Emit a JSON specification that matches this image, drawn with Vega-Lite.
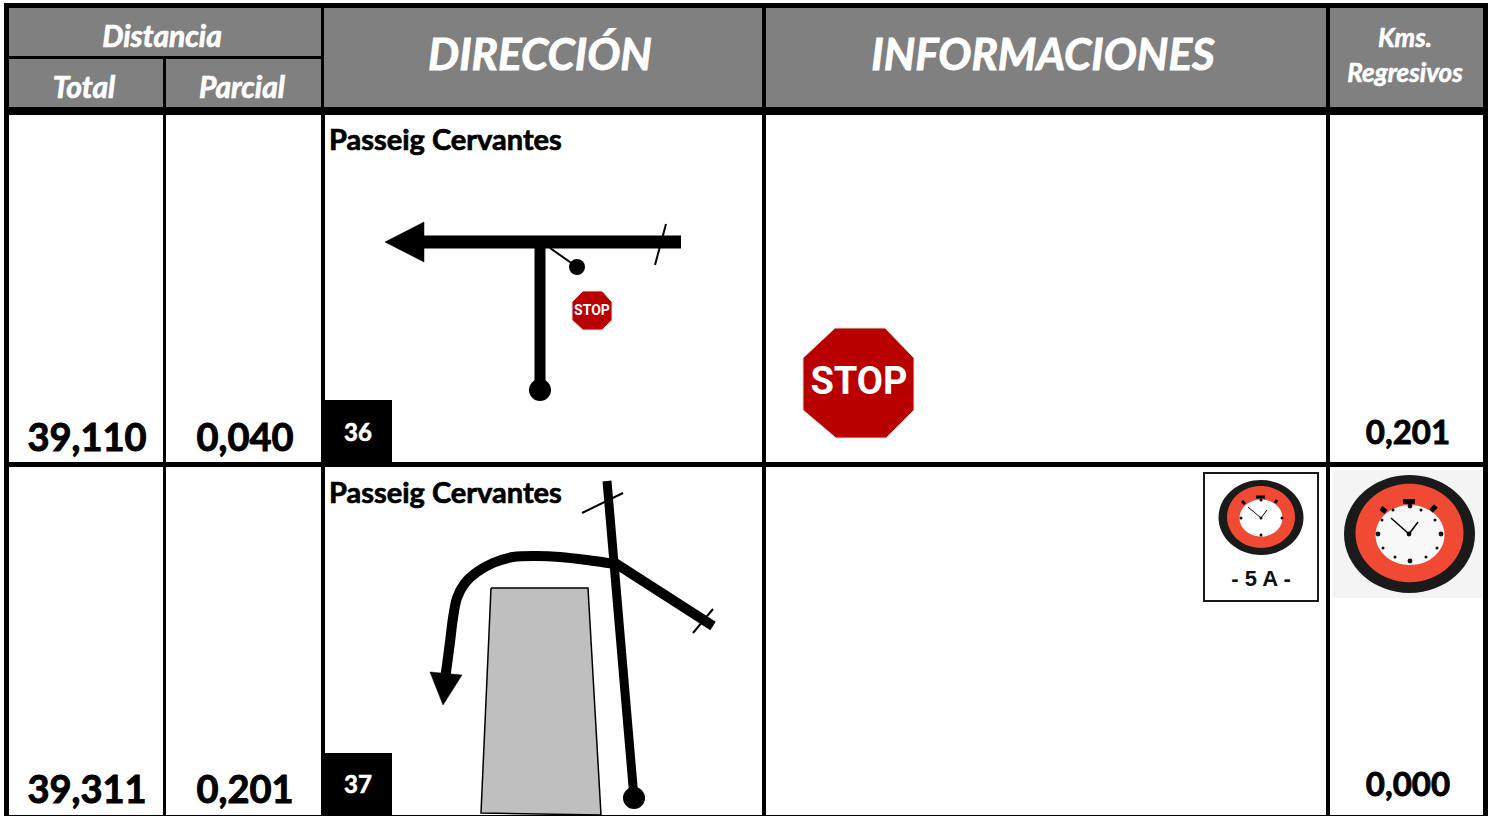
{
"$schema":"https://vega.github.io/schema/vega-lite/v6.json",
"width":1494,"height":816,"padding":0,
"autosize":"none",
"background":"#ffffff",
"config":{"view":{"stroke":null},"text":{"font":"Lato"}},
"datasets":{
"cells":[
{"part":"frame","x":4,"x2":1488,"y":3,"y2":816},
{"part":"header","x":9,"x2":321,"y":8,"y2":56},
{"part":"header","x":9,"x2":163,"y":59,"y2":107},
{"part":"header","x":166,"x2":321,"y":59,"y2":107},
{"part":"header","x":324,"x2":762,"y":8,"y2":107},
{"part":"header","x":766,"x2":1326,"y":8,"y2":107},
{"part":"header","x":1330,"x2":1483,"y":8,"y2":107},
{"part":"body","x":9,"x2":163,"y":115,"y2":462},
{"part":"body","x":166,"x2":321,"y":115,"y2":462},
{"part":"body","x":325,"x2":762,"y":115,"y2":462},
{"part":"body","x":766,"x2":1326,"y":115,"y2":462},
{"part":"body","x":1330,"x2":1483,"y":115,"y2":462},
{"part":"body","x":9,"x2":163,"y":467,"y2":815},
{"part":"body","x":166,"x2":321,"y":467,"y2":815},
{"part":"body","x":325,"x2":762,"y":467,"y2":815},
{"part":"body","x":766,"x2":1326,"y":467,"y2":815},
{"part":"body","x":1330,"x2":1483,"y":467,"y2":815},
{"part":"tag","x":324,"x2":392,"y":400,"y2":462},
{"part":"tag","x":324,"x2":392,"y":753,"y2":815},
{"part":"clockback","x":1333,"x2":1482,"y":470,"y2":598},
{"part":"signedge","x":1203,"x2":1319,"y":472,"y2":602},
{"part":"signface","x":1205,"x2":1317,"y":474,"y2":600}
],
"polys":[
{"kind":"block","seq":1,"x":491,"y":588},{"kind":"block","seq":2,"x":588,"y":588},{"kind":"block","seq":3,"x":601,"y":815},{"kind":"block","seq":4,"x":481,"y":813},{"kind":"block","seq":5,"x":491,"y":588},
{"kind":"head1","seq":1,"x":385,"y":242},{"kind":"head1","seq":2,"x":424,"y":222},{"kind":"head1","seq":3,"x":424,"y":262},{"kind":"head1","seq":4,"x":385,"y":242},
{"kind":"head2","seq":1,"x":430,"y":672},{"kind":"head2","seq":2,"x":462,"y":675},{"kind":"head2","seq":3,"x":443,"y":705},{"kind":"head2","seq":4,"x":430,"y":672},
{"kind":"stopA","seq":1,"x":835,"y":328},{"kind":"stopA","seq":2,"x":885,"y":328},{"kind":"stopA","seq":3,"x":914,"y":358},{"kind":"stopA","seq":4,"x":914,"y":410},{"kind":"stopA","seq":5,"x":886,"y":438},{"kind":"stopA","seq":6,"x":836,"y":438},{"kind":"stopA","seq":7,"x":803,"y":410},{"kind":"stopA","seq":8,"x":803,"y":358},{"kind":"stopA","seq":9,"x":835,"y":328},
{"kind":"stopB","seq":1,"x":583,"y":291},{"kind":"stopB","seq":2,"x":602,"y":291},{"kind":"stopB","seq":3,"x":612,"y":302},{"kind":"stopB","seq":4,"x":612,"y":320},{"kind":"stopB","seq":5,"x":602,"y":330},{"kind":"stopB","seq":6,"x":583,"y":330},{"kind":"stopB","seq":7,"x":572,"y":320},{"kind":"stopB","seq":8,"x":572,"y":302},{"kind":"stopB","seq":9,"x":583,"y":291}
],
"roads":[
{"road":"t-main","weight":"main","seq":1,"x":420,"y":242},{"road":"t-main","weight":"main","seq":2,"x":681,"y":242},
{"road":"t-stem","weight":"stem","seq":1,"x":540,"y":242},{"road":"t-stem","weight":"stem","seq":2,"x":540,"y":388},
{"road":"t-link","weight":"fine","seq":1,"x":550,"y":248},{"road":"t-link","weight":"fine","seq":2,"x":577,"y":267},
{"road":"t-tick","weight":"fine","seq":1,"x":666,"y":224},{"road":"t-tick","weight":"fine","seq":2,"x":655,"y":265},
{"road":"long","weight":"long","seq":1,"x":607,"y":481},{"road":"long","weight":"long","seq":2,"x":634,"y":798},
{"road":"branch","weight":"branch","seq":1,"x":615,"y":563},{"road":"branch","weight":"branch","seq":2,"x":713,"y":626},
{"road":"tick-a","weight":"fine","seq":1,"x":582,"y":513},{"road":"tick-a","weight":"fine","seq":2,"x":623,"y":493},
{"road":"tick-b","weight":"fine","seq":1,"x":693,"y":633},{"road":"tick-b","weight":"fine","seq":2,"x":713,"y":609},
{"road":"bighand-1","weight":"hair","seq":1,"x":1391,"y":518},{"road":"bighand-1","weight":"hair","seq":2,"x":1409,"y":534},
{"road":"bighand-2","weight":"hair","seq":1,"x":1409,"y":534},{"road":"bighand-2","weight":"hair","seq":2,"x":1418,"y":522},
{"road":"smallhand-1","weight":"thin","seq":1,"x":1248,"y":507},{"road":"smallhand-1","weight":"thin","seq":2,"x":1261,"y":518},
{"road":"smallhand-2","weight":"thin","seq":1,"x":1261,"y":518},{"road":"smallhand-2","weight":"thin","seq":2,"x":1267,"y":510},
{"road":"knob-t","weight":"knob","seq":1,"x":1403,"y":501.5},{"road":"knob-t","weight":"knob","seq":2,"x":1415,"y":501.5},
{"road":"knob-l","weight":"knob","seq":1,"x":1381,"y":508},{"road":"knob-l","weight":"knob","seq":2,"x":1386,"y":512},
{"road":"knob-r","weight":"knob","seq":1,"x":1436,"y":506},{"road":"knob-r","weight":"knob","seq":2,"x":1431,"y":511},
{"road":"knob-st","weight":"small-knob","seq":1,"x":1256,"y":497},{"road":"knob-st","weight":"small-knob","seq":2,"x":1265,"y":497},
{"road":"knob-sl","weight":"small-knob","seq":1,"x":1242,"y":501},{"road":"knob-sl","weight":"small-knob","seq":2,"x":1245,"y":504},
{"road":"knob-sr","weight":"small-knob","seq":1,"x":1277,"y":500},{"road":"knob-sr","weight":"small-knob","seq":2,"x":1275,"y":503}
],
"curve":[
{"seq":1,"x":615,"y":564},{"seq":2,"x":587,"y":560},{"seq":3,"x":560,"y":557},{"seq":4,"x":537,"y":556},{"seq":5,"x":513,"y":557},{"seq":6,"x":493,"y":563},{"seq":7,"x":477,"y":572},{"seq":8,"x":465,"y":583},{"seq":9,"x":457,"y":598},{"seq":10,"x":453,"y":618},{"seq":11,"x":450,"y":642},{"seq":12,"x":447,"y":665},{"seq":13,"x":445,"y":678}
],
"dots":[
{"part":"big-outer","x":1409.5,"y":534},{"part":"big-red","x":1409.5,"y":533},{"part":"big-face","x":1410,"y":535},
{"part":"small-outer","x":1261,"y":517.5},{"part":"small-red","x":1261,"y":517},{"part":"small-face","x":1261,"y":518},
{"part":"node","x":540,"y":390},{"part":"node","x":634,"y":798},{"part":"stud","x":577,"y":267},
{"part":"pip","x":1410,"y":506},{"part":"pip","x":1410,"y":561},{"part":"pip","x":1378,"y":534},{"part":"pip","x":1441,"y":534},{"part":"pip","x":1409,"y":534},
{"part":"mini","x":1393,"y":510},{"part":"mini","x":1421,"y":510},{"part":"mini","x":1435,"y":520},{"part":"mini","x":1437,"y":548},{"part":"mini","x":1426,"y":557},{"part":"mini","x":1395,"y":557},{"part":"mini","x":1383,"y":548},{"part":"mini","x":1382,"y":520},
{"part":"mini","x":1261,"y":500},{"part":"mini","x":1261,"y":535},{"part":"mini","x":1241,"y":518},{"part":"mini","x":1282,"y":518},{"part":"mini","x":1261,"y":518}
],
"labels":[
{"role":"mid","text":"Distancia","x":162,"y":38},
{"role":"mid","text":"Total","x":84,"y":89},
{"role":"mid","text":"Parcial","x":242,"y":89},
{"role":"large","text":"DIRECCIÓN","x":540,"y":57},
{"role":"large","text":"INFORMACIONES","x":1043,"y":57},
{"role":"small","text":"Kms.","x":1405,"y":39},
{"role":"small","text":"Regresivos","x":1405,"y":74},
{"role":"dist","text":"39,110","x":87,"y":440},
{"role":"dist","text":"0,040","x":245,"y":440},
{"role":"dist","text":"39,311","x":87,"y":792},
{"role":"dist","text":"0,201","x":245,"y":792},
{"role":"regress","text":"0,201","x":1408,"y":434},
{"role":"regress","text":"0,000","x":1408,"y":786},
{"role":"street","text":"Passeig Cervantes","x":329,"y":141},
{"role":"street","text":"Passeig Cervantes","x":329,"y":494},
{"role":"tag","text":"36","x":358,"y":434},
{"role":"tag","text":"37","x":358,"y":786},
{"role":"stopbig","text":"STOP","x":859,"y":383},
{"role":"stopmini","text":"STOP","x":592,"y":311},
{"role":"sign","text":"- 5 A -","x":1261,"y":579}
]
},
"encoding":{
"x":{"field":"x","type":"quantitative","scale":{"domain":[0,1494],"nice":false,"zero":false},"axis":null},
"y":{"field":"y","type":"quantitative","scale":{"domain":[0,816],"nice":false,"zero":false,"reverse":true},"axis":null}
},
"layer":[
{"data":{"name":"cells"},"mark":{"type":"rect"},
"encoding":{"x2":{"field":"x2"},"y2":{"field":"y2"},
"color":{"field":"part","type":"nominal","legend":null,"scale":{"domain":["frame","header","body","tag","clockback","signedge","signface"],"range":["#000000","#808080","#ffffff","#000000","#f4f4f4","#1a1a1a","#ffffff"]}}}},
{"data":{"name":"polys"},"transform":[{"filter":"datum.kind=='block'"}],"mark":{"type":"line","fill":"#bfbfbf","stroke":"#000000","strokeWidth":1.5},"encoding":{"order":{"field":"seq","type":"ordinal"},"detail":{"field":"kind"}}},
{"data":{"name":"polys"},"transform":[{"filter":"datum.kind=='head1'||datum.kind=='head2'"}],"mark":{"type":"line","fill":"#000000","stroke":"#000000","strokeWidth":0.5},"encoding":{"order":{"field":"seq","type":"ordinal"},"detail":{"field":"kind"}}},
{"data":{"name":"polys"},"transform":[{"filter":"datum.kind=='stopA'||datum.kind=='stopB'"}],"mark":{"type":"line","fill":"#b80000","stroke":"#dddddd","strokeWidth":1},"encoding":{"order":{"field":"seq","type":"ordinal"},"detail":{"field":"kind"}}},
{"data":{"name":"dots"},"transform":[{"filter":"datum.part!='pip'&&datum.part!='mini'"}],"mark":{"type":"point","filled":true,"opacity":1},
"encoding":{
"color":{"field":"part","type":"nominal","legend":null,"scale":{"domain":["big-outer","big-red","big-face","small-outer","small-red","small-face","node","stud"],"range":["#1a1a1a","#f04a35","#f8f8f8","#1a1a1a","#f04a35","#ffffff","#000000","#000000"]}},
"size":{"field":"part","type":"nominal","legend":null,"scale":{"type":"ordinal","domain":["big-outer","big-red","big-face","small-outer","small-red","small-face","node","stud"],"range":[17161,11664,4761,7225,4624,1849,484,256]}},
"shape":{"field":"part","type":"nominal","legend":null,"scale":{"domain":["big-outer","big-red","big-face","small-outer","small-red","small-face","node","stud"],"range":["M-1 0A1 .9 0 1 1 1 0A1 .9 0 1 1-1 0Z","M-1 0A1 .91 0 1 1 1 0A1 .91 0 1 1-1 0Z","M-1 0A1 .87 0 1 1 1 0A1 .87 0 1 1-1 0Z","M-1 0A1 .88 0 1 1 1 0A1 .88 0 1 1-1 0Z","M-1 0A1 .91 0 1 1 1 0A1 .91 0 1 1-1 0Z","M-1 0A1 .86 0 1 1 1 0A1 .86 0 1 1-1 0Z","circle","circle"]}}}},
{"data":{"name":"dots"},"transform":[{"filter":"datum.part=='pip'||datum.part=='mini'"}],"mark":{"type":"point","filled":true,"opacity":1,"color":"#111111","shape":"circle"},
"encoding":{"size":{"field":"part","type":"nominal","legend":null,"scale":{"type":"ordinal","domain":["pip","mini"],"range":[24,9]}}}},
{"data":{"name":"roads"},"mark":{"type":"line","color":"#000000","strokeCap":"butt"},
"encoding":{"order":{"field":"seq","type":"ordinal"},"detail":{"field":"road"},
"strokeWidth":{"field":"weight","type":"nominal","legend":null,"scale":{"type":"ordinal","domain":["main","stem","branch","long","knob","small-knob","fine","hair","thin"],"range":[13,11,10,9,5,3,2,1.5,1]}}}},
{"data":{"name":"curve"},"mark":{"type":"line","color":"#000000","strokeWidth":10,"interpolate":"cardinal"},"encoding":{"order":{"field":"seq","type":"ordinal"}}},
{"data":{"name":"labels"},"transform":[{"filter":"datum.role=='large'"}],"mark":{"type":"text","font":"Lato","fontWeight":"bold","fontStyle":"italic","fontSize":44,"color":"#ffffff","stroke":"#ffffff","strokeWidth":0.9},"encoding":{"text":{"field":"text"}}},
{"data":{"name":"labels"},"transform":[{"filter":"datum.role=='mid'"}],"mark":{"type":"text","font":"Lato","fontWeight":"bold","fontStyle":"italic","fontSize":30,"color":"#ffffff","stroke":"#ffffff","strokeWidth":0.7},"encoding":{"text":{"field":"text"}}},
{"data":{"name":"labels"},"transform":[{"filter":"datum.role=='small'"}],"mark":{"type":"text","font":"Lato","fontWeight":"bold","fontStyle":"italic","fontSize":26,"color":"#ffffff","stroke":"#ffffff","strokeWidth":0.6},"encoding":{"text":{"field":"text"}}},
{"data":{"name":"labels"},"transform":[{"filter":"datum.role=='dist'"}],"mark":{"type":"text","font":"Lato","fontWeight":"bold","fontSize":38,"color":"#000000","stroke":"#000000","strokeWidth":1},"encoding":{"text":{"field":"text"}}},
{"data":{"name":"labels"},"transform":[{"filter":"datum.role=='regress'"}],"mark":{"type":"text","font":"Lato","fontWeight":"bold","fontSize":33,"color":"#000000","stroke":"#000000","strokeWidth":0.9},"encoding":{"text":{"field":"text"}}},
{"data":{"name":"labels"},"transform":[{"filter":"datum.role=='street'"}],"mark":{"type":"text","font":"Lato","fontWeight":"bold","fontSize":29,"align":"left","color":"#000000","stroke":"#000000","strokeWidth":0.7},"encoding":{"text":{"field":"text"}}},
{"data":{"name":"labels"},"transform":[{"filter":"datum.role=='tag'"}],"mark":{"type":"text","font":"Lato","fontWeight":"bold","fontSize":24,"color":"#ffffff","stroke":"#ffffff","strokeWidth":0.6},"encoding":{"text":{"field":"text"}}},
{"data":{"name":"labels"},"transform":[{"filter":"datum.role=='stopbig'"}],"mark":{"type":"text","font":"Roboto","fontWeight":"bold","fontSize":38,"color":"#ffffff"},"encoding":{"text":{"field":"text"}}},
{"data":{"name":"labels"},"transform":[{"filter":"datum.role=='stopmini'"}],"mark":{"type":"text","font":"Roboto","fontWeight":"bold","fontSize":14,"color":"#ffffff"},"encoding":{"text":{"field":"text"}}},
{"data":{"name":"labels"},"transform":[{"filter":"datum.role=='sign'"}],"mark":{"type":"text","font":"Liberation Sans","fontWeight":"bold","fontSize":22,"color":"#111111"},"encoding":{"text":{"field":"text"}}}
],
"resolve":{"scale":{"color":"independent","size":"independent","shape":"independent","strokeWidth":"independent"}}
}
